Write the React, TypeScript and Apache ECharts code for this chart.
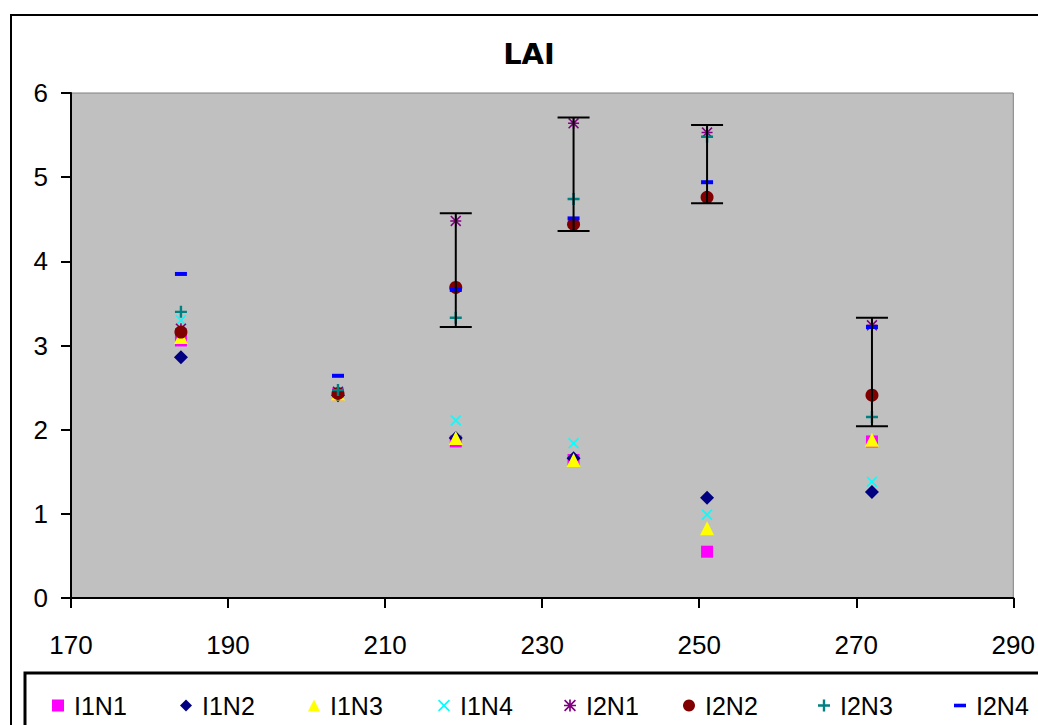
import React, { useEffect, useRef } from "react";
import * as echarts from "echarts";

// Day of year (x) for each sampling date
const days = [184, 204, 219, 234, 251, 272];

// LAI values per treatment
const i1n1 = [3.06, 2.42, 1.86, 1.64, 0.55, 1.86];
const i1n2 = [2.86, 2.41, 1.9, 1.66, 1.19, 1.26];
const i1n3 = [3.1, 2.43, 1.9, 1.64, 0.83, 1.88];
const i1n4 = [3.3, 2.45, 2.11, 1.84, 0.99, 1.38];
const i2n1 = [3.2, 2.45, 4.48, 5.64, 5.53, 3.24];
const i2n2 = [3.16, 2.43, 3.69, 4.44, 4.76, 2.41];
const i2n3 = [3.4, 2.47, 3.33, 4.74, 5.48, 2.15];
const i2n4 = [3.85, 2.64, 3.66, 4.51, 4.94, 3.22];

// Error bar extents
const errLow = [null, null, 3.22, 4.36, 4.69, 2.04];
const errHigh = [null, null, 4.57, 5.71, 5.62, 3.33];

const seriesNames = ["I1N1", "I1N2", "I1N3", "I1N4", "I2N1", "I2N2", "I2N3", "I2N4"];
const seriesValues = [i1n1, i1n2, i1n3, i1n4, i2n1, i2n2, i2n3, i2n4];
const xTicks = { min: 170, max: 290, interval: 20 };
const yTicks = { min: 0, max: 6, interval: 1 };

const X_PATH = "path://M1,0L5,4L9,0L10,1L6,5L10,9L9,10L5,6L1,10L0,9L4,5L0,1Z";
const PLUS_PATH = "path://M4,0H6V4H10V6H6V10H4V6H0V4H4Z";
const STAR_PATH =
  "path://M4.3,0H5.7V4.3H10V5.7H5.7V10H4.3V5.7H0V4.3H4.3Z M1,0L5,4L9,0L10,1L6,5L10,9L9,10L5,6L1,10L0,9L4,5L0,1Z";
const DASH_PATH = "path://M0,0H10V3H0Z";

const styles = [
  { symbol: "rect", size: 12, color: "#FF00FF" },
  { symbol: "diamond", size: 14, color: "#000080" },
  { symbol: "triangle", size: 14, color: "#FFFF00" },
  { symbol: X_PATH, size: 11, color: "#00FFFF" },
  { symbol: STAR_PATH, size: 11, color: "#800080" },
  { symbol: "circle", size: 13, color: "#800000" },
  { symbol: PLUS_PATH, size: 12, color: "#008080" },
  { symbol: DASH_PATH, size: [12, 4], color: "#0000FF" },
];

const legendCenters = [58, 186, 314, 444, 570, 689, 824, 960];

export default function App() {
  const ref = useRef<HTMLDivElement>(null);

  useEffect(() => {
    document.body.style.margin = "0";
    if (!ref.current) return;
    const chart = echarts.init(ref.current, null, { renderer: "svg" });

    const scatterSeries = seriesNames.map((name, k) => ({
      name,
      type: "scatter",
      symbol: styles[k].symbol,
      symbolSize: styles[k].size,
      itemStyle: { color: styles[k].color, opacity: 1 },
      data: days.map((d, i) => [d, seriesValues[k][i]]),
      z: 3 + k,
    }));

    const errData = days
      .map((d, i) => [d, errLow[i], errHigh[i]])
      .filter((r) => r[1] !== null && r[2] !== null);

    const errorSeries = {
      type: "custom",
      name: "err",
      z: 20,
      data: errData,
      encode: { x: 0, y: [1, 2] },
      renderItem: (params: any, api: any) => {
        const x = api.value(0);
        const lo = api.coord([x, api.value(1)]);
        const hi = api.coord([x, api.value(2)]);
        const h = 16;
        const st = { stroke: "#000", lineWidth: 2 };
        return {
          type: "group",
          children: [
            { type: "line", shape: { x1: lo[0], y1: lo[1], x2: hi[0], y2: hi[1] }, style: st },
            { type: "line", shape: { x1: hi[0] - h, y1: hi[1], x2: hi[0] + h, y2: hi[1] }, style: st },
            { type: "line", shape: { x1: lo[0] - h, y1: lo[1], x2: lo[0] + h, y2: lo[1] }, style: st },
          ],
        };
      },
    };

    const legends = seriesNames.map((name, k) => ({
      data: [name],
      left: legendCenters[k] - 6,
      top: 693,
      itemWidth: 12,
      itemHeight: 12,
      padding: 0,
      textStyle: { fontSize: 25, color: "#000", fontFamily: "Liberation Sans", padding: [0, 0, 0, 5] },
      selectedMode: false,
    }));

    chart.setOption({
      animation: false,
      backgroundColor: "#ffffff",
      textStyle: { fontFamily: "Liberation Sans" },
      grid: {
        left: 71,
        right: 20,
        top: 93,
        bottom: 127,
        show: true,
        backgroundColor: "#C0C0C0",
        borderColor: "#808080",
        borderWidth: 1,
      },
      xAxis: {
        type: "value",
        min: xTicks.min,
        max: xTicks.max,
        interval: xTicks.interval,
        axisLine: { show: true, onZero: false, lineStyle: { color: "#000", width: 2 } },
        axisTick: { show: true, length: 10, lineStyle: { color: "#000", width: 2 } },
        axisLabel: { color: "#000", fontSize: 26, margin: 34, fontFamily: "Liberation Sans" },
        splitLine: { show: false },
      },
      yAxis: {
        type: "value",
        min: yTicks.min,
        max: yTicks.max,
        interval: yTicks.interval,
        axisLine: { show: true, onZero: false, lineStyle: { color: "#000", width: 2 } },
        axisTick: { show: true, length: 10, lineStyle: { color: "#000", width: 2 } },
        axisLabel: { color: "#000", fontSize: 26, margin: 23, fontFamily: "Liberation Sans" },
        splitLine: { show: false },
      },
      legend: legends,
      graphic: [
        {
          type: "rect",
          shape: { x: 11, y: 15, width: 1100, height: 800 },
          style: { fill: "none", stroke: "#000", lineWidth: 2 },
          silent: true,
        },
        {
          type: "rect",
          shape: { x: 25, y: 673, width: 1100, height: 100 },
          style: { fill: "none", stroke: "#000", lineWidth: 3 },
          silent: true,
        },
        {
          type: "text",
          x: 529,
          y: 54,
          style: {
            text: "LAI",
            font: 'bold 29px "DejaVu Sans"',
            fill: "#000",
            textAlign: "center",
            textVerticalAlign: "middle",
          },
          silent: true,
        },
      ],
      series: [...scatterSeries, errorSeries],
    });

    return () => chart.dispose();
  }, []);

  return <div ref={ref} style={{ width: 1038, height: 725 }} />;
}
